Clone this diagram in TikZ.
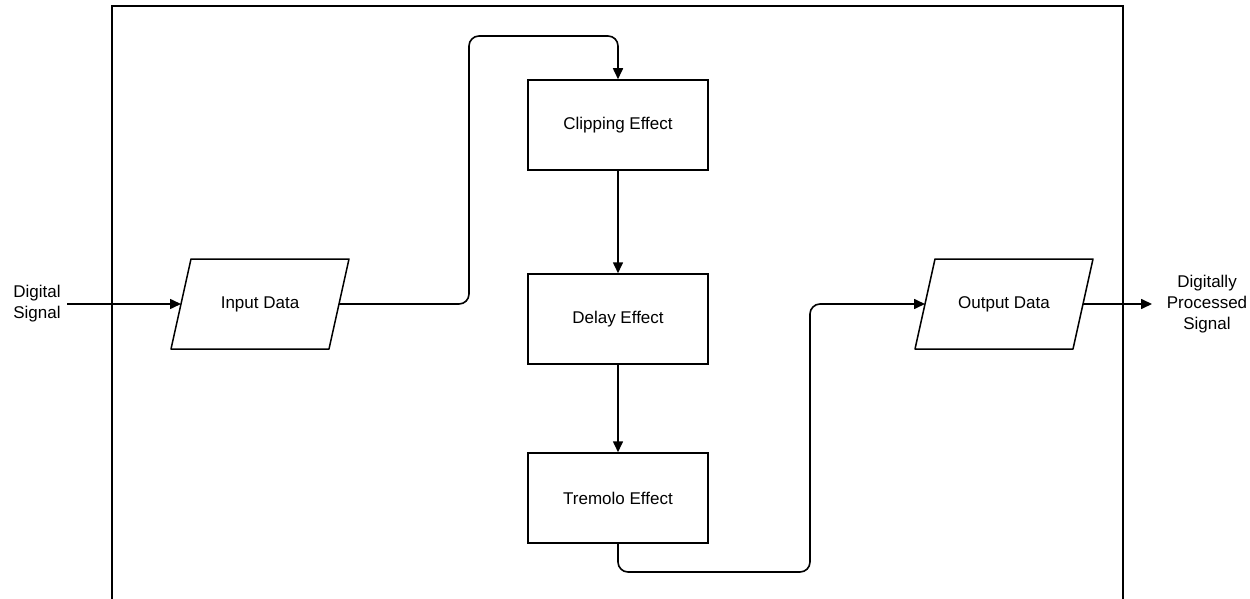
\documentclass[tikz,border=0pt]{standalone}
\usepackage{fontspec}
\setmainfont{Liberation Sans}
\usetikzlibrary{arrows.meta}
\begin{document}
\begin{tikzpicture}[x=1pt,y=-1pt,
  every node/.style={font=\fontsize{17}{21}\selectfont},
  box/.style={draw, line width=1.5pt, minimum width=180pt, minimum height=90pt, inner sep=0pt},
  lbl/.style={align=center, inner sep=0pt},
  conn/.style={line width=1.5pt, line join=round},
  arr/.style={line width=1.6pt, rounded corners=10pt, -{Triangle[length=11pt,width=10pt]}},
  frame/.style={line width=1.5pt}]
\useasboundingbox (0,0) rectangle (1250,599);
% outer frame (open at the bottom)
\draw[frame] (112,599) -- (112,6) -- (1123,6) -- (1123,599);
% process boxes
\node[box] (clip) at (618,125) {Clipping Effect};
\node[box] (delay) at (618,319) {Delay Effect};
\node[box] (trem) at (618,498) {Tremolo Effect};
% input/output parallelograms
\node[lbl] (in) at (260,304) {Input Data};
\draw[conn] (191,259) -- (349,259) -- (329,349) -- (171,349) -- cycle;
\coordinate (inL) at (181,304);
\coordinate (inR) at (339,304);
\node[lbl] (out) at (1004,304) {Output Data};
\draw[conn] (935,259) -- (1093,259) -- (1073,349) -- (915,349) -- cycle;
\coordinate (outL) at (925,304);
\coordinate (outR) at (1083,304);
% outside labels
\node[lbl] (dsig) at (37,304) {Digital\\Signal};
\node[lbl] (dps) at (1207,304) {Digitally\\Processed\\Signal};
\coordinate (dsE) at (67,304);
\coordinate (dpsW) at (1152,304);
% connectors
\draw[arr] (dsE) -- (inL);
\draw[arr] (inR) -- (469,304) -- (469,36) -- (618,36) -- (clip.north);
\draw[arr] (clip.south) -- (delay.north);
\draw[arr] (delay.south) -- (trem.north);
\draw[arr] (trem.south) -- (618,572) -- (810,572) -- (810,304) -- (outL);
\draw[arr] (outR) -- (dpsW);
\end{tikzpicture}
\end{document}
